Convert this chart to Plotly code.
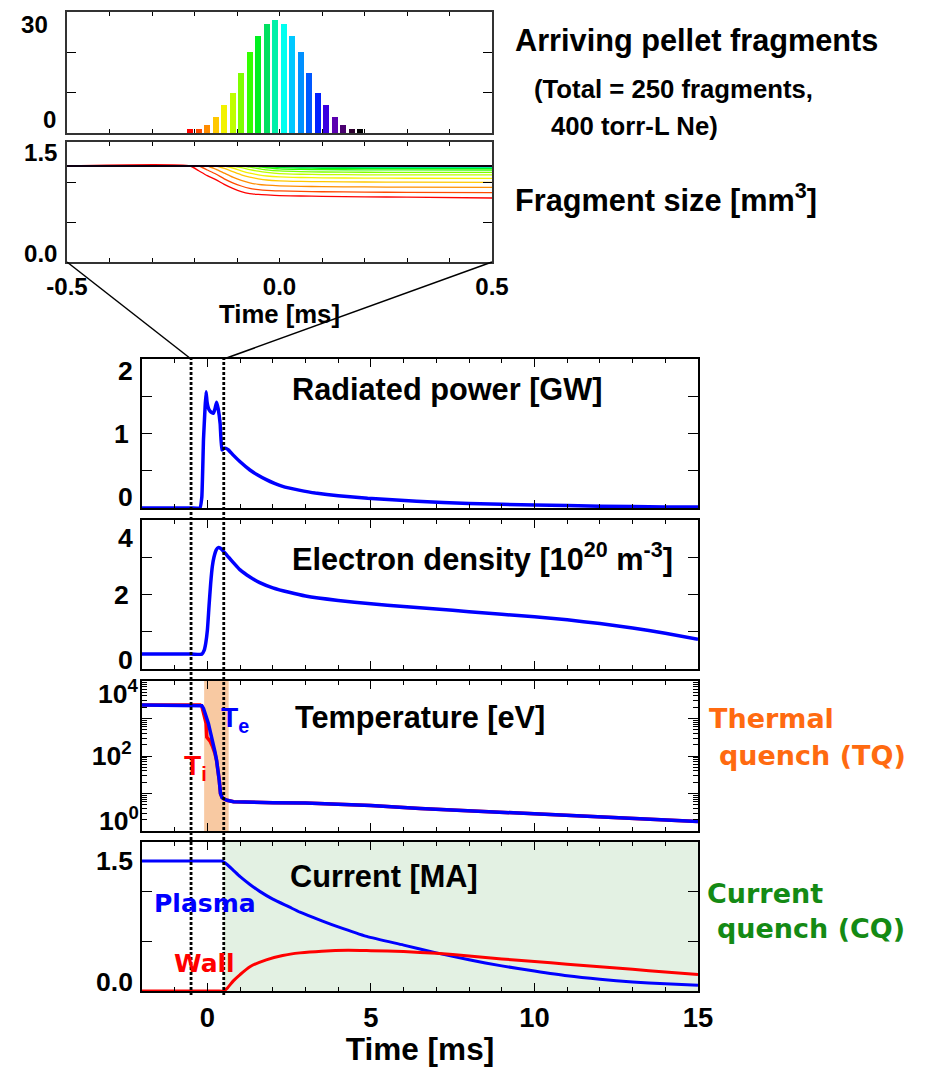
import glob
import plotly.graph_objects as go

# ---------------- data ----------------
# arriving pellet fragments (histogram)
HIST_T = [-0.21, -0.19, -0.17, -0.15, -0.13, -0.11, -0.09, -0.07, -0.05, -0.03, -0.01,
          0.01, 0.03, 0.05, 0.07, 0.09, 0.11, 0.13, 0.15, 0.17, 0.19]
HIST_N = [1, 1, 2, 4, 7, 10, 15, 20, 24, 27, 28, 27, 24, 20, 15, 10, 7, 4, 2, 1, 1]
FRAG_COLORS = ["#FF0000", "#FF4A00", "#FF8C00", "#FFC800", "#F2F200", "#BFFF00", "#7FFF00",
               "#33FF00", "#00F020", "#00E060", "#00F0A8", "#00FFF0", "#00C8FF", "#0090FF",
               "#0058FF", "#0020FF", "#3A00E0", "#5A00B0", "#4A0070", "#2E0030", "#000000"]

# fragment size [mm^3] vs time, per fragment
FRAG_T = [-0.5, -0.21, -0.19, -0.17, -0.15, -0.13, -0.11, -0.09, -0.07, -0.05, -0.03,
          0.0, 0.05, 0.1, 0.2, 0.3, 0.5]
FRAG_SIZE = [
    [1.2, 1.2, 1.14, 1.08, 1.03, 0.97, 0.92, 0.88, 0.855, 0.845, 0.838, 0.83, 0.825, 0.82, 0.815, 0.81, 0.80],
    [1.2, 1.2, 1.2, 1.15, 1.10, 1.04, 0.99, 0.95, 0.92, 0.905, 0.895, 0.888, 0.882, 0.878, 0.874, 0.87, 0.866],
    [1.2, 1.2, 1.2, 1.2, 1.16, 1.11, 1.06, 1.02, 0.99, 0.97, 0.96, 0.952, 0.946, 0.942, 0.938, 0.936, 0.933],
    [1.2, 1.2, 1.2, 1.2, 1.2, 1.17, 1.13, 1.09, 1.06, 1.04, 1.025, 1.015, 1.008, 1.004, 1.0, 0.998, 0.996],
    [1.2, 1.2, 1.2, 1.2, 1.2, 1.2, 1.175, 1.14, 1.11, 1.09, 1.075, 1.063, 1.056, 1.052, 1.049, 1.047, 1.046],
    [1.2, 1.2, 1.2, 1.2, 1.2, 1.2, 1.2, 1.18, 1.155, 1.135, 1.12, 1.105, 1.097, 1.093, 1.09, 1.089, 1.088],
    [1.2, 1.2, 1.2, 1.2, 1.2, 1.2, 1.2, 1.2, 1.185, 1.168, 1.152, 1.138, 1.129, 1.125, 1.122, 1.121, 1.12],
    [1.2, 1.2, 1.2, 1.2, 1.2, 1.2, 1.2, 1.2, 1.2, 1.19, 1.178, 1.165, 1.157, 1.154, 1.152, 1.151, 1.15],
    [1.2, 1.2, 1.2, 1.2, 1.2, 1.2, 1.2, 1.2, 1.2, 1.2, 1.192, 1.182, 1.175, 1.172, 1.171, 1.17, 1.17],
    [1.2, 1.2, 1.2, 1.2, 1.2, 1.2, 1.2, 1.2, 1.2, 1.2, 1.2, 1.193, 1.187, 1.185, 1.184, 1.183, 1.183],
    [1.2, 1.2, 1.2, 1.2, 1.2, 1.2, 1.2, 1.2, 1.2, 1.2, 1.2, 1.2, 1.194, 1.192, 1.191, 1.19, 1.19],
    [1.2, 1.2, 1.2, 1.2, 1.2, 1.2, 1.2, 1.2, 1.2, 1.2, 1.2, 1.2, 1.197, 1.195, 1.194, 1.194, 1.193],
    [1.2, 1.2, 1.2, 1.2, 1.2, 1.2, 1.2, 1.2, 1.2, 1.2, 1.2, 1.2, 1.2, 1.197, 1.196, 1.196, 1.195],
    [1.2, 1.2, 1.2, 1.2, 1.2, 1.2, 1.2, 1.2, 1.2, 1.2, 1.2, 1.2, 1.2, 1.199, 1.198, 1.197, 1.197],
    [1.2, 1.2, 1.2, 1.2, 1.2, 1.2, 1.2, 1.2, 1.2, 1.2, 1.2, 1.2, 1.2, 1.2, 1.199, 1.198, 1.198],
    [1.2, 1.2, 1.2, 1.2, 1.2, 1.2, 1.2, 1.2, 1.2, 1.2, 1.2, 1.2, 1.2, 1.2, 1.2, 1.199, 1.199],
    [1.2, 1.2, 1.2, 1.2, 1.2, 1.2, 1.2, 1.2, 1.2, 1.2, 1.2, 1.2, 1.2, 1.2, 1.2, 1.2, 1.199],
    [1.2, 1.2, 1.2, 1.2, 1.2, 1.2, 1.2, 1.2, 1.2, 1.2, 1.2, 1.2, 1.2, 1.2, 1.2, 1.2, 1.2],
    [1.2, 1.2, 1.2, 1.2, 1.2, 1.2, 1.2, 1.2, 1.2, 1.2, 1.2, 1.2, 1.2, 1.2, 1.2, 1.2, 1.2],
    [1.2, 1.2, 1.2, 1.2, 1.2, 1.2, 1.2, 1.2, 1.2, 1.2, 1.2, 1.2, 1.2, 1.2, 1.2, 1.2, 1.2],
    [1.2, 1.2, 1.2, 1.2, 1.2, 1.2, 1.2, 1.2, 1.2, 1.2, 1.2, 1.2, 1.2, 1.2, 1.2, 1.2, 1.2],
]

# radiated power [GW]
RAD_T = [-2, -0.5, -0.23, -0.17, -0.12, -0.07, -0.04, -0.01, 0.03, 0.08, 0.13, 0.18, 0.23,
         0.28, 0.33, 0.39, 0.44, 0.5, 0.57, 0.64, 0.79, 1.0, 1.3, 1.55, 1.8, 2.05, 2.3, 2.8, 3.3, 4.0,
         4.9, 6.4, 8.0, 10.0, 12.0, 14.0, 15.0]
RAD_P = [0, 0, 0, 0.15, 0.92, 1.36, 1.56, 1.42, 1.34, 1.30, 1.28, 1.27, 1.33,
         1.42, 1.33, 1.13, 0.78, 0.80, 0.80, 0.78, 0.71, 0.62, 0.51, 0.44, 0.38, 0.33, 0.29, 0.24, 0.20, 0.165,
         0.13, 0.09, 0.06, 0.04, 0.025, 0.015, 0.012]

# electron density [1e20 m^-3]
NE_T = [-2, -0.5, -0.17, -0.1, -0.05, 0.0, 0.05, 0.1, 0.15, 0.2, 0.27, 0.33, 0.4, 0.5,
        0.65, 0.8, 1.0, 1.3, 1.6, 2.0, 2.5, 3.0, 4.0, 5.0, 6.0, 7.0, 8.0, 9.0, 10.0, 11.0,
        12.0, 13.0, 14.0, 15.0]
NE_V = [0.4, 0.4, 0.4, 0.5, 0.7, 1.05, 1.7, 2.3, 2.75, 3.0, 3.2, 3.26, 3.24, 3.15,
        3.0, 2.85, 2.66, 2.47, 2.32, 2.18, 2.06, 1.96, 1.84, 1.75, 1.68, 1.61, 1.54, 1.47, 1.40, 1.32,
        1.22, 1.10, 0.96, 0.80]

# temperatures [eV]
TE_T = [-2, -0.5, -0.22, -0.17, -0.12, -0.05, 0.03, 0.1, 0.18, 0.23, 0.28, 0.32, 0.36, 0.4,
        0.45, 0.5, 0.6, 0.8, 1.2, 2.0, 3.0, 4.0, 5.0, 6.5, 8.0, 10.0, 12.0, 13.5, 15.0]
TE_V = [2300, 2300, 2300, 2200, 1860, 1200, 740, 400, 220, 130, 78, 45, 23, 10,
        7.8, 7.2, 6.6, 6.0, 5.8, 5.7, 5.6, 5.2, 4.8, 4.0, 3.5, 2.9, 2.4, 2.05, 1.8]
TI_T = [-2, -0.5, -0.22, -0.17, -0.12, -0.07, -0.04, -0.02, 0.03, 0.08, 0.15, 0.23, 0.28,
        0.32, 0.36, 0.4, 0.45, 0.5, 0.6, 0.8, 1.2, 2.0, 3.0, 4.0, 5.0, 6.5, 8.0, 10.0, 12.0,
        13.5, 15.0]
TI_V = [2300, 2300, 2300, 2100, 1500, 1000, 740, 320, 280, 250, 185, 118, 75,
        45, 23, 10, 7.8, 7.2, 6.6, 6.0, 5.8, 5.7, 5.6, 5.2, 4.8, 4.0, 3.5, 2.9, 2.4,
        2.05, 1.8]

# currents [MA]
IP_T = [-2, -0.5, 0.3, 0.44, 0.6, 0.8, 1.0, 1.3, 1.6, 2.0, 2.5, 2.83, 3.5, 4.0, 4.87, 6.0,
        7.0, 8.0, 9.0, 10.0, 11.0, 12.0, 13.0, 14.0, 15.0]
IP_V = [1.5, 1.5, 1.5, 1.5, 1.46, 1.39, 1.32, 1.23, 1.15, 1.06, 0.97, 0.91, 0.81, 0.74, 0.63, 0.53,
        0.44, 0.36, 0.29, 0.23, 0.175, 0.135, 0.105, 0.083, 0.066]
IW_T = [-2, -0.5, 0.3, 0.5, 0.6, 0.8, 1.0, 1.3, 1.8, 2.3, 2.83, 3.5, 4.3, 5.0, 6.0, 7.0,
        8.0, 9.0, 10.0, 11.0, 12.0, 13.0, 14.0, 15.0]
IW_V = [0, 0, 0, 0, 0.03, 0.12, 0.19, 0.28, 0.36, 0.41, 0.44, 0.46, 0.47, 0.465, 0.455, 0.435,
        0.405, 0.37, 0.34, 0.31, 0.28, 0.25, 0.22, 0.19]

TQ_WINDOW = [-0.1, 0.65]
CQ_WINDOW = [0.5, 15.0]
ZOOM_WINDOW = [-0.5, 0.5]

# ---------------- style / layout ----------------
W, H = 940, 1067
NARROW_OK = bool(glob.glob("/usr/share/fonts/**/LiberationSansNarrow*", recursive=True) or
                 glob.glob("/usr/local/share/fonts/**/LiberationSansNarrow*", recursive=True))
FAM = "Liberation Sans Narrow" if NARROW_OK else "Liberation Sans, Arial"
K = 1.0 if NARROW_OK else 0.83
GOTH = "DejaVu Sans"
BLUE, RED = "#0000FF", "#FF0000"
ORANGE, GREEN = "#FF6A10", "#148A14"


def xd(a, b):
    return [a / W, b / W]


def yd(top, bottom):
    return [1 - bottom / H, 1 - top / H]


def font(size, color="black", fam=None):
    return dict(family=fam or FAM, size=size, color=color, weight="bold")


D_TOP_X = xd(67, 492)
D_LOW_X = xd(142, 698)
LOW_RANGE = [-2, 15]

fig = go.Figure()

# histogram
fig.add_trace(go.Bar(x=HIST_T, y=HIST_N, width=0.014, marker=dict(color=FRAG_COLORS, line_width=0),
                     xaxis="x", yaxis="y", showlegend=False))
# fragment sizes
for sz, c in zip(FRAG_SIZE, FRAG_COLORS):
    fig.add_trace(go.Scatter(x=FRAG_T, y=sz, mode="lines", line=dict(color=c, width=1.3, shape="spline", smoothing=0.6),
                             xaxis="x2", yaxis="y2", showlegend=False))
# radiated power
fig.add_trace(go.Scatter(x=RAD_T, y=RAD_P, mode="lines", line=dict(color=BLUE, width=3.5, shape="spline", smoothing=0.3),
                         xaxis="x3", yaxis="y3", showlegend=False))
# density
fig.add_trace(go.Scatter(x=NE_T, y=NE_V, mode="lines", line=dict(color=BLUE, width=3.5, shape="spline", smoothing=0.5),
                         xaxis="x4", yaxis="y4", showlegend=False))
# temperature
fig.add_trace(go.Scatter(x=TI_T, y=TI_V, mode="lines", line=dict(color=RED, width=3.5),
                         xaxis="x5", yaxis="y5", showlegend=False))
fig.add_trace(go.Scatter(x=TE_T, y=TE_V, mode="lines", line=dict(color=BLUE, width=3.5),
                         xaxis="x5", yaxis="y5", showlegend=False))
# currents
fig.add_trace(go.Scatter(x=IP_T, y=IP_V, mode="lines", line=dict(color=BLUE, width=3, shape="spline", smoothing=0.6),
                         xaxis="x6", yaxis="y6", showlegend=False))
fig.add_trace(go.Scatter(x=IW_T, y=IW_V, mode="lines", line=dict(color=RED, width=3, shape="spline", smoothing=0.6),
                         xaxis="x6", yaxis="y6", showlegend=False))

frame = dict(showline=True, linecolor="black", linewidth=2, mirror="ticks", showgrid=False,
             zeroline=False, ticks="inside", tickcolor="black", fixedrange=True, automargin=False)
frame_top = dict(frame, linecolor="#333333", linewidth=1.5)

top_ticks = [-0.5, -0.4, -0.3, -0.2, -0.1, 0.0, 0.1, 0.2, 0.3, 0.4, 0.5]
top_text = ["-0.5", "", "", "", "", "0.0", "", "", "", "", "0.5"]

I_MAX = 1.72

layout = dict(
    width=W, height=H, margin=dict(l=0, r=0, t=0, b=0, autoexpand=False), autosize=False,
    paper_bgcolor="white", plot_bgcolor="white", showlegend=False, bargap=0,
    xaxis=dict(frame_top, domain=D_TOP_X, anchor="y", range=ZOOM_WINDOW, tickvals=top_ticks,
               ticklen=4, showticklabels=False),
    yaxis=dict(frame_top, domain=yd(12, 133), anchor="x", range=[0, 30], tickvals=[0, 10, 20, 30],
               ticklen=9, showticklabels=False),
    xaxis2=dict(frame_top, domain=D_TOP_X, anchor="y2", range=ZOOM_WINDOW, tickvals=top_ticks,
                ticktext=top_text, ticklen=4, tickfont=font(29 * K), ticklabelstandoff=2,
                title=dict(text="Time [ms]", font=font(31 * K), standoff=0)),
    yaxis2=dict(frame_top, domain=yd(142, 262), anchor="x2", range=[0, 1.5], tickvals=[0, 0.5, 1, 1.5],
                ticklen=9, showticklabels=False),
)
low_common = dict(frame, domain=D_LOW_X, range=LOW_RANGE, tick0=0, dtick=5, ticklen=8,
                  minor=dict(tick0=0, dtick=1, ticks="inside", ticklen=4, tickcolor="black"))
layout["xaxis3"] = dict(low_common, anchor="y3", showticklabels=False)
layout["xaxis4"] = dict(low_common, anchor="y4", showticklabels=False)
layout["xaxis5"] = dict(low_common, anchor="y5", showticklabels=False)
layout["xaxis6"] = dict(low_common, anchor="y6", tickfont=font(33 * K), ticklabelstandoff=1,
                        title=dict(text="Time [ms]", font=font(38 * K), standoff=2))
layout["yaxis3"] = dict(frame, domain=yd(359, 508), anchor="x3", range=[0, 2],
                        tickvals=[0, 0.5, 1, 1.5, 2], ticktext=["", "", "1", "", ""], ticklen=10,
                        tickfont=font(32 * K), ticklabelstandoff=6)
layout["yaxis4"] = dict(frame, domain=yd(520, 669), anchor="x4", range=[0, 4],
                        tickvals=[0, 1, 2, 3, 4], ticktext=["", "", "2", "", ""], ticklen=10,
                        tickfont=font(32 * K), ticklabelstandoff=6)
minor_log = [m * 10 ** e for e in range(4) for m in range(2, 10)]
layout["yaxis5"] = dict(frame, domain=yd(681, 831), anchor="x5", type="log", range=[0, 4],
                        tickvals=[1, 10, 100, 1000, 10000], ticktext=["", "", "10<sup>2</sup>", "", ""],
                        ticklen=10, tickfont=font(32 * K), ticklabelstandoff=3,
                        minor=dict(tickmode="array", tickvals=minor_log, ticks="inside", ticklen=5,
                                   tickcolor="black"))
layout["yaxis6"] = dict(frame, domain=yd(842, 991), anchor="x6", range=[0, I_MAX],
                        tickvals=[0, I_MAX / 3, 2 * I_MAX / 3, I_MAX], ticklen=10, showticklabels=False)
fig.update_layout(**layout)

# ---------------- shapes ----------------
shapes = []
shapes.append(dict(type="rect", xref="x5", yref="y5 domain", x0=TQ_WINDOW[0], x1=TQ_WINDOW[1], y0=0, y1=1,
                   fillcolor="#F8C9A2", line_width=0, layer="below"))
shapes.append(dict(type="rect", xref="x6", yref="y6 domain", x0=CQ_WINDOW[0], x1=CQ_WINDOW[1], y0=0, y1=1,
                   fillcolor="#E3F1E3", line_width=0, layer="below"))


def low_paper_x(t):
    d0, d1 = D_LOW_X
    return d0 + (t - LOW_RANGE[0]) / (LOW_RANGE[1] - LOW_RANGE[0]) * (d1 - d0)


rad_top = layout["yaxis3"]["domain"][1]
frag_bottom = layout["yaxis2"]["domain"][0]
for t in ZOOM_WINDOW:
    shapes.append(dict(type="line", xref="x3", yref="paper", x0=t, x1=t,
                       y0=1 - 995 / H, y1=rad_top,
                       line=dict(color="black", width=2.8, dash="3px,2px")))
shapes.append(dict(type="line", xref="paper", yref="paper", x0=D_TOP_X[0], y0=frag_bottom,
                   x1=low_paper_x(ZOOM_WINDOW[0]), y1=rad_top, line=dict(color="black", width=1.5)))
shapes.append(dict(type="line", xref="paper", yref="paper", x0=D_TOP_X[1], y0=frag_bottom,
                   x1=low_paper_x(ZOOM_WINDOW[1]), y1=rad_top, line=dict(color="black", width=1.5)))
fig.update_layout(shapes=shapes)

# ---------------- annotations ----------------
ann = []


def note(xpx, ypx, text, f, xanchor="left"):
    ann.append(dict(x=xpx / W, y=1 - ypx / H, xref="paper", yref="paper", text=text, showarrow=False,
                    xanchor=xanchor, yanchor="middle", font=f))


def ylab(text, yref, yval, yshift, xpx_right, size):
    ann.append(dict(x=xpx_right / W, xref="paper", y=yval, yref=yref, text=text, showarrow=False,
                    xanchor="right", yanchor="middle", yshift=yshift, font=font(size)))


ylab("30", "y", 30, -13, 50, 29 * K)
ylab("0", "y", 0, 13, 58, 29 * K)
ylab("1.5", "y2", 1.5, -11, 59, 29 * K)
ylab("0.0", "y2", 0, 9, 59, 29 * K)
ylab("2", "y3", 2, -12, 135, 32 * K)
ylab("0", "y3", 0, 11, 135, 32 * K)
ylab("4", "y4", 4, -18, 135, 32 * K)
ylab("0", "y4", 0, 9, 135, 32 * K)
# log axis: annotation positions are given in log10 units
ylab("10<sup>4</sup>", "y5", 4, -11, 141, 32 * K)
ylab("10<sup>0</sup>", "y5", 0, 12, 141, 32 * K)
ylab("1.5", "y6", 1.5, 0, 135, 32 * K)
ylab("0.0", "y6", 0, 9, 135, 32 * K)

note(513, 40, "Arriving pellet fragments", font(37 * K))
note(532, 89, "(Total = 250 fragments,", font(31 * K))
note(549, 126, "400 torr-L Ne)", font(31 * K))
note(513, 198, "Fragment size [mm<sup>3</sup>]", font(37 * K))
note(290, 389, "Radiated power [GW]", font(37 * K))
note(290, 557, "Electron density [10<sup>20</sup> m<sup>-3</sup>]", font(37 * K))
note(293, 717, "Temperature [eV]", font(37 * K))
note(288, 876, "Current [MA]", font(37 * K))
note(219, 719, "T<sub>e</sub>", font(34 * K, BLUE))
note(182, 767, "T<sub>i</sub>", font(34 * K, RED))
note(152, 903, "Plasma", font(25, BLUE, GOTH))
note(172, 963, "Wall", font(25, RED, GOTH))
note(707, 718, "Thermal", font(27, ORANGE, GOTH))
note(717, 755, "quench (TQ)", font(27, ORANGE, GOTH))
note(705, 893, "Current", font(27, GREEN, GOTH))
note(715, 928, "quench (CQ)", font(27, GREEN, GOTH))
fig.update_layout(annotations=ann)

fig.write_html("out.html")
